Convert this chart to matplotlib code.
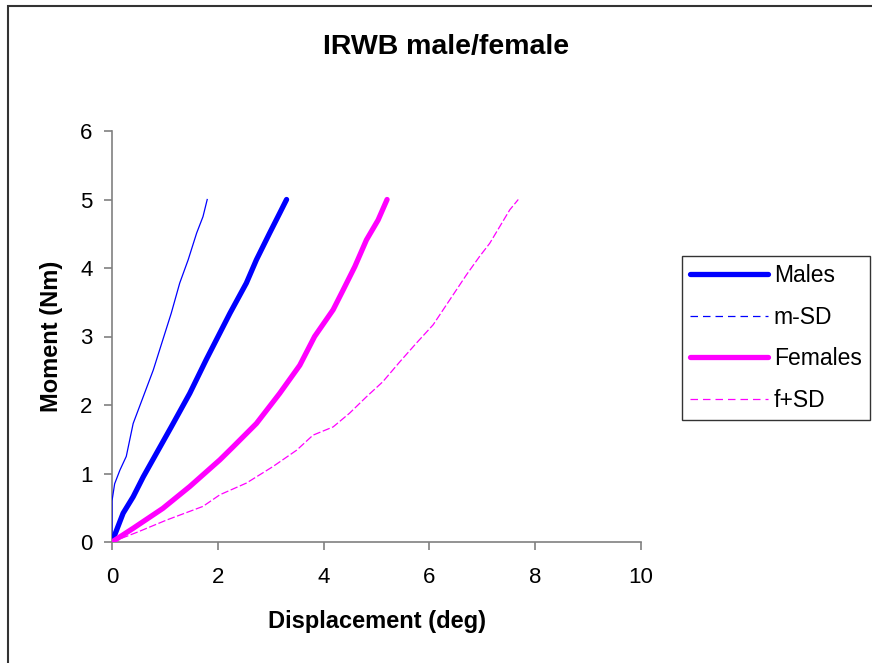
import matplotlib
matplotlib.use("Agg")
import matplotlib.pyplot as plt
from matplotlib.lines import Line2D
from matplotlib.patches import Rectangle

plt.rcParams['font.family'] = ['Liberation Sans', 'DejaVu Sans']

# series (displacement in deg, moment in Nm)
males_x = [0, 0.05, 0.21, 0.40, 0.59, 1.12, 1.47, 1.78, 2.23, 2.54, 2.73, 2.98, 3.17, 3.30]
males_y = [0, 0.10, 0.42, 0.66, 0.95, 1.68, 2.17, 2.66, 3.34, 3.78, 4.12, 4.51, 4.80, 5.00]

msd_x = [0, 0, 0.05, 0.15, 0.27, 0.40, 0.59, 0.78, 0.96, 1.12, 1.28, 1.44, 1.60, 1.72, 1.80]
msd_y = [0, 0.60, 0.85, 1.05, 1.25, 1.73, 2.12, 2.51, 2.95, 3.34, 3.78, 4.12, 4.51, 4.75, 5.00]

fem_x = [0, 0.20, 0.40, 0.96, 1.47, 2.04, 2.29, 2.73, 3.17, 3.55, 3.83, 4.18, 4.37, 4.59, 4.81, 5.03, 5.20]
fem_y = [0, 0.10, 0.20, 0.49, 0.81, 1.20, 1.39, 1.73, 2.17, 2.58, 3.00, 3.39, 3.68, 4.02, 4.41, 4.70, 5.00]

fsd_x = [0, 0.50, 1.03, 1.72, 2.04, 2.54, 3.04, 3.49, 3.80, 4.18, 4.49, 4.81, 5.12, 5.44, 5.75,
         6.07, 6.32, 6.70, 6.95, 7.14, 7.52, 7.68]
fsd_y = [0, 0.15, 0.32, 0.52, 0.69, 0.86, 1.10, 1.34, 1.56, 1.68, 1.88, 2.12, 2.34, 2.63, 2.90,
         3.17, 3.46, 3.90, 4.17, 4.36, 4.85, 5.00]

x_ticks = [0, 2, 4, 6, 8, 10]
y_ticks = [0, 1, 2, 3, 4, 5, 6]

blue = "#0000FF"
magenta = "#FF00FF"

fig = plt.figure(figsize=(8.72, 6.63), dpi=100)
ax = fig.add_axes([112 / 872, 1 - 542 / 663, (641 - 112) / 872, (542 - 131) / 663])

ax.plot(msd_x, msd_y, color=blue, linewidth=0.9, zorder=3)
ax.plot(males_x, males_y, color=blue, linewidth=3.8, solid_capstyle='round', zorder=4)
ax.plot(fsd_x, fsd_y, color=magenta, linewidth=0.9, linestyle=(0, (6, 2)), zorder=3)
ax.plot(fem_x, fem_y, color=magenta, linewidth=3.8, solid_capstyle='round', zorder=4)

ax.set_xlim(0, 10)
ax.set_ylim(0, 6)
ax.set_xticks(x_ticks)
ax.set_yticks(y_ticks)
for s in ['top', 'right']:
    ax.spines[s].set_visible(False)
for s in ['left', 'bottom']:
    ax.spines[s].set_color("#808080")
    ax.spines[s].set_linewidth(1.2)
ax.tick_params(direction='out', length=6, width=1.2, color="#808080", labelsize=16)
ax.tick_params(axis='x', pad=12)
ax.tick_params(axis='y', pad=8)

ax.set_xlabel("Displacement (deg)", fontsize=17, fontweight='bold', labelpad=16)
ax.set_ylabel("Moment (Nm)", fontsize=17, fontweight='bold', labelpad=12)
fig.text(446 / 872, 1 - 47 / 663, "IRWB male/female", fontsize=20.5, fontweight='bold',
         ha='center', va='center')

handles = [
    Line2D([], [], color=blue, linewidth=3.8, solid_capstyle='round'),
    Line2D([], [], color=blue, linewidth=0.9, linestyle=(0, (6, 4))),
    Line2D([], [], color=magenta, linewidth=3.8, solid_capstyle='round'),
    Line2D([], [], color=magenta, linewidth=0.9, linestyle=(0, (6, 4))),
]
leg = fig.legend(handles, ["Males", "m-SD", "Females", "f+SD"], loc='center left',
                 bbox_to_anchor=(682 / 872, 1 - 338 / 663), fontsize=16.5, frameon=True,
                 fancybox=False, edgecolor='black', handlelength=3.4, handletextpad=0.25,
                 labelspacing=0.82, borderpad=0.35, borderaxespad=0)
leg.get_frame().set_linewidth(1.0)

# outer chart border (only left and top are visible in the reference)
fig.patches.append(Rectangle((8 / 872, -0.1), 1.2, 1.1 - 6 / 663, transform=fig.transFigure,
                             fill=False, edgecolor="#333333", linewidth=1.5))

fig.savefig("out.png", dpi=100)
